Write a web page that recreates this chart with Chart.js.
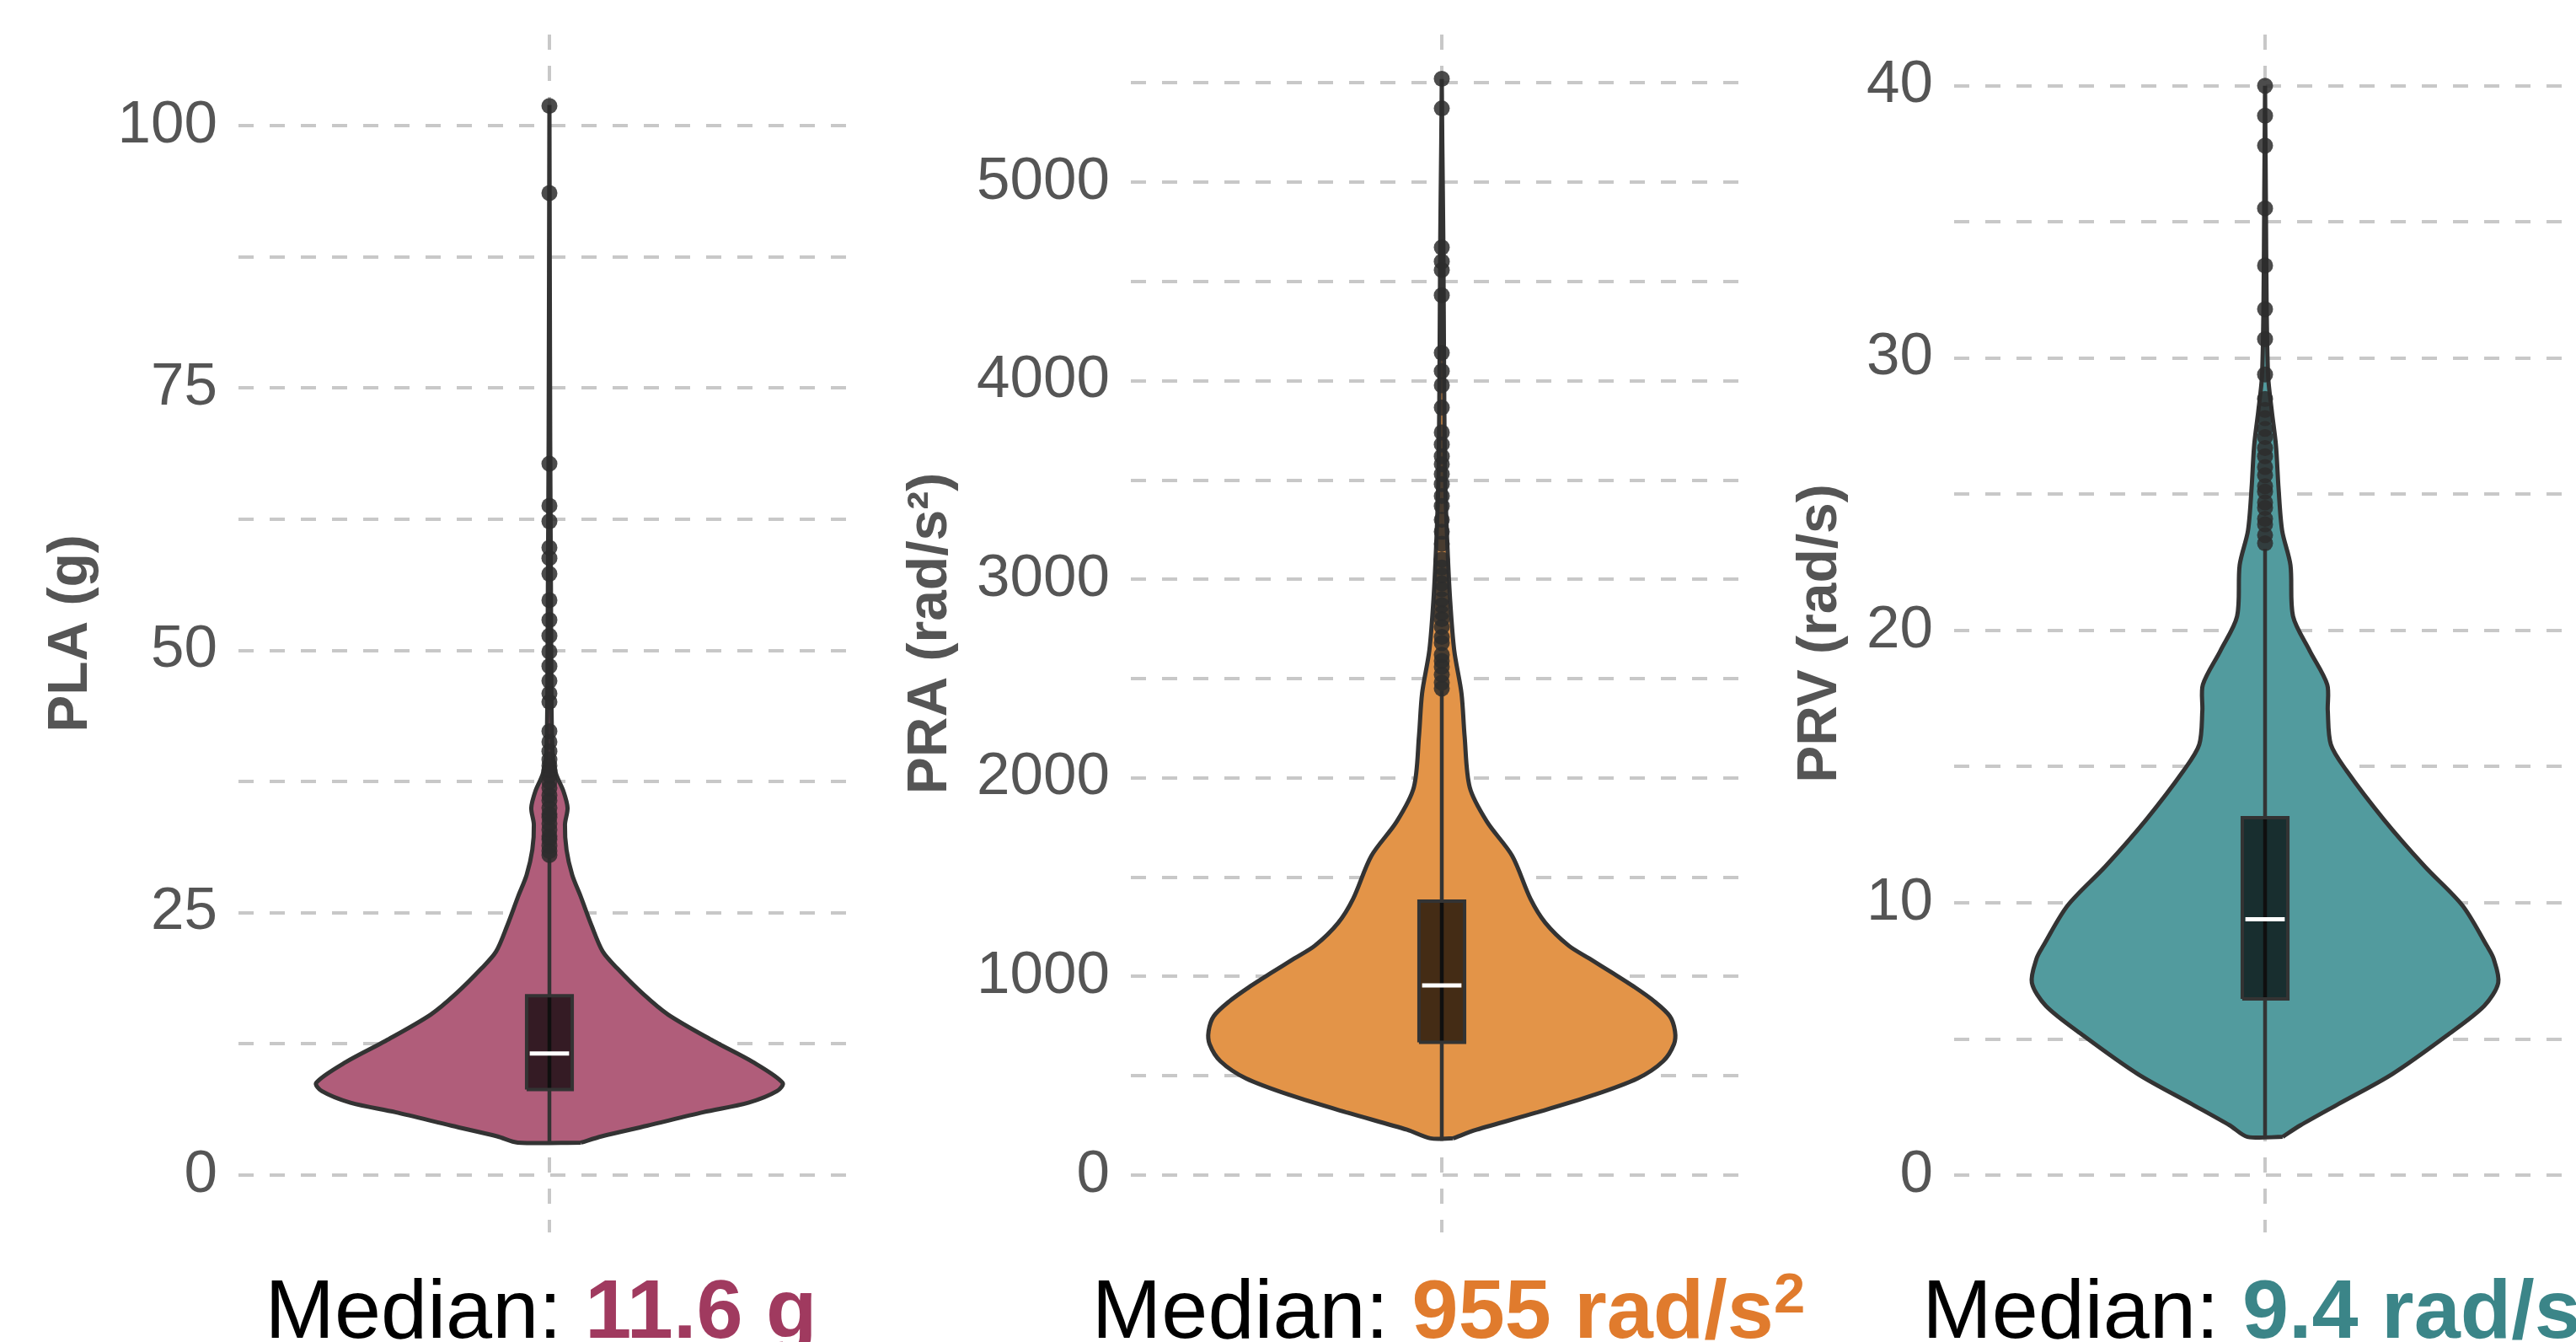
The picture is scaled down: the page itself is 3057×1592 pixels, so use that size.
<!DOCTYPE html>
<html>
<head>
<meta charset="utf-8">
<script src="https://cdn.jsdelivr.net/npm/chart.js@4.4.1/dist/chart.umd.min.js"></script>
<style>
  body { margin: 0; background: #fff; width: 3057px; height: 1592px; overflow: hidden; position: relative;
         font-family: "Liberation Sans", Arial, Helvetica, sans-serif; }
  .panel { position: absolute; top: 0; height: 1462px; }
  .xlab { position: absolute; top: 1503px; font-size: 99px; line-height: 99px; white-space: nowrap;
          transform: translateX(-50%); color: #000; }
  .xlab b { font-weight: bold; }
  .xlab sup { font-size: 67px; vertical-align: 30px; line-height: 0; }
</style>
</head>
<body>
<div class="panel" id="p1"><canvas id="c1"></canvas></div>
<div class="panel" id="p2"><canvas id="c2"></canvas></div>
<div class="panel" id="p3"><canvas id="c3"></canvas></div>
<div class="xlab" style="left:642px">Median: <b style="color:#a03a5f">11.6 g</b></div>
<div class="xlab" style="left:1719px">Median: <b style="color:#e07b2d">955 rad/s<sup>2</sup></b></div>
<div class="xlab" style="left:2672px">Median: <b style="color:#3b8588">9.4 rad/s</b></div>
<script>
// ---- data ----
// PLA (g)
const plaLevels = [3.1, 3.7, 4.7, 6.0, 6.9, 8.0, 8.8, 10.8, 12.8, 15.3, 17.3, 19.7, 21.3, 23.7, 26.6, 28.6, 31.0, 33.4, 35.0, 36.6, 38.2, 39.9, 45, 55, 70, 102];
const plaWidths = [0.061, 0.101, 0.188, 0.297, 0.384, 0.439, 0.45, 0.392, 0.316, 0.229, 0.180, 0.131, 0.103, 0.082, 0.060, 0.044, 0.033, 0.030, 0.035, 0.027, 0.013, 0.0065, 0.004, 0.003, 0.0015, 0];
const plaStats = [3.1, 8.15, 11.6, 17.1, 30.2]; // min, q1, median, q3, upper whisker
const plaOutliers = [30.5, 30.9, 31.4, 32.0, 32.3, 32.9, 33.5, 34.1, 34.4, 35.0, 35.7, 36.2, 36.9, 37.5, 38.1, 38.6,
  39.0, 39.6, 40.4, 41.3, 42.3, 45.1, 45.9, 47.1, 48.5, 49.9, 51.4, 52.9, 54.8, 57.3, 58.8, 59.8, 62.3, 63.8, 67.8, 93.6, 101.9];
const plaGrid = [0, 12.5, 25, 37.5, 50, 62.5, 75, 87.5, 100];
const plaTicks = [0, 25, 50, 75, 100];

// PRA (rad/s^2)
const praLevels = [185, 228, 314, 401, 487, 573, 659, 724, 800, 875, 950, 1017, 1090, 1155, 1270, 1392, 1607, 1780, 1952, 2211, 2426, 2642, 2900, 3160, 3500, 4000, 4700, 5200, 5520];
const praWidths = [0.022, 0.067, 0.182, 0.291, 0.378, 0.427, 0.448, 0.45, 0.44, 0.41, 0.37, 0.33, 0.285, 0.245, 0.20, 0.171, 0.136, 0.087, 0.054, 0.044, 0.038, 0.024, 0.016, 0.011, 0.0065, 0.0045, 0.003, 0.001, 0];
const praStats = [185, 668, 955, 1379, 2440];
const praOutliers = [2450, 2480, 2520, 2560, 2590, 2620, 2680, 2710, 2760, 2800, 2830, 2870, 2900, 2950, 2980, 3020,
  3060, 3100, 3180, 3240, 3300, 3370, 3420, 3480, 3530, 3580, 3620, 3680, 3740, 3865, 3978, 4049, 4141, 4431, 4558, 4601, 4672, 5372, 5521];
const praGrid = [0, 500, 1000, 1500, 2000, 2500, 3000, 3500, 4000, 4500, 5000, 5500];
const praTicks = [0, 1000, 2000, 3000, 4000, 5000];

// PRV (rad/s)
const prvLevels = [1.41, 1.83, 2.61, 3.71, 5.12, 6.22, 7.07, 7.95, 8.42, 9.90, 11.34, 13.04, 14.86, 15.81, 17.06, 18.01, 19.26, 20.52, 22.40, 23.66, 25.23, 26.80, 28.06, 29.32, 32, 36, 40];
const prvWidths = [0.034, 0.068, 0.141, 0.245, 0.350, 0.423, 0.45, 0.441, 0.428, 0.381, 0.308, 0.230, 0.157, 0.127, 0.121, 0.120, 0.086, 0.054, 0.049, 0.033, 0.026, 0.021, 0.013, 0.006, 0.003, 0.0015, 0];
const prvStats = [1.41, 6.47, 9.4, 13.13, 23.0];
const prvOutliers = [23.2, 23.5, 23.9, 24.1, 24.5, 24.7, 25.1, 25.3, 25.7, 26.0, 26.4, 26.7, 27.1, 27.4, 27.8, 28.1, 28.5,
  29.4, 30.7, 31.8, 33.4, 35.5, 37.8, 38.9, 40.0];
const prvGrid = [0, 5, 10, 15, 20, 25, 30, 35, 40];
const prvTicks = [0, 10, 20, 30, 40];

// ---- styling / layout ----
Chart.defaults.font.family = '"Liberation Sans", Arial, Helvetica, sans-serif';
const GRID = '#c8c8c8';
const DARK = '#333333';
const BOX_HALF = 0.044;

function violinPoints(levels, widths) {
  const right = levels.map((y, i) => ({ x: widths[i], y: y }));
  const left = levels.map((y, i) => ({ x: -widths[i], y: y })).reverse();
  return right.concat(left, [right[0]]);
}

function makePanel(canvasId, divId, p) {
  const div = document.getElementById(divId);
  div.style.left = p.left + 'px';
  div.style.width = p.width + 'px';
  const [mn, q1, med, q3, wTop] = p.stats;

  return new Chart(document.getElementById(canvasId), {
    type: 'line',
    data: {
      datasets: [
        { // outliers
          data: p.outliers.map(v => ({ x: 0, y: v })),
          showLine: false, pointRadius: 9.5, pointBorderWidth: 0,
          pointBackgroundColor: 'rgba(45,45,45,0.85)', order: 1
        },
        { // median
          data: [{ x: -BOX_HALF + 0.006, y: med }, { x: BOX_HALF - 0.006, y: med }],
          borderColor: '#ffffff', borderWidth: 5, pointRadius: 0, order: 2
        },
        { // box
          data: [{ x: -BOX_HALF, y: q1 }, { x: BOX_HALF, y: q1 }, { x: BOX_HALF, y: q3 }, { x: -BOX_HALF, y: q3 }, { x: -BOX_HALF, y: q1 }],
          borderColor: DARK, borderWidth: 4, backgroundColor: 'rgba(0,0,0,0.7)', fill: 'shape',
          pointRadius: 0, tension: 0, order: 3
        },
        { // whisker
          data: [{ x: 0, y: mn }, { x: 0, y: wTop }],
          borderColor: DARK, borderWidth: 4.5, pointRadius: 0, order: 4
        },
        { // violin
          data: violinPoints(p.levels, p.widths),
          borderColor: DARK, borderWidth: 5, backgroundColor: p.fill, fill: 'shape',
          pointRadius: 0, tension: 0.3, order: 5
        }
      ]
    },
    options: {
      responsive: true, maintainAspectRatio: false, animation: false, events: [],
      layout: { autoPadding: false, padding: { top: 41, left: 0, right: 0, bottom: 0 } },
      plugins: { legend: { display: false }, tooltip: { enabled: false } },
      scales: {
        x: {
          type: 'linear', min: -0.6, max: 0.6,
          afterBuildTicks: s => { s.ticks = [{ value: 0 }]; },
          ticks: { display: false },
          grid: { color: GRID, lineWidth: 4, drawTicks: false },
          border: { display: false, dash: [18, 19] }
        },
        y: {
          type: 'linear', min: p.yMin, max: p.yMax,
          afterBuildTicks: s => { s.ticks = p.grid.map(v => ({ value: v })); },
          afterFit: s => { s.width = p.axisWidth; s.paddingTop = 0; s.paddingBottom = 0; },
          ticks: {
            autoSkip: false, padding: 25, color: '#555555', font: { size: 71 },
            callback: v => (p.ticks.includes(v) ? String(v) : '')
          },
          grid: { color: GRID, lineWidth: 4, drawTicks: false },
          border: { display: false, dash: [18, 19] },
          title: {
            display: true, text: p.title, color: '#555555',
            font: { size: 66, weight: 'bold', lineHeight: 1 }, padding: { top: 0, bottom: 0 }
          }
        }
      }
    }
  });
}

makePanel('c1', 'p1', {
  left: 52, width: 969, axisWidth: 231, yMin: -5.46, yMax: 108.7, title: 'PLA (g)',
  levels: plaLevels, widths: plaWidths, stats: plaStats, outliers: plaOutliers,
  grid: plaGrid, ticks: plaTicks, fill: '#b05d7a'
});
makePanel('c2', 'p2', {
  left: 1072, width: 1008, axisWidth: 270, yMin: -289, yMax: 5744, title: 'PRA (rad/s²)',
  levels: praLevels, widths: praWidths, stats: praStats, outliers: praOutliers,
  grid: praGrid, ticks: praTicks, fill: '#e39448'
});
makePanel('c3', 'p3', {
  left: 2128, width: 929, axisWidth: 191, yMin: -2.1, yMax: 41.88, title: 'PRV (rad/s)',
  levels: prvLevels, widths: prvWidths, stats: prvStats, outliers: prvOutliers,
  grid: prvGrid, ticks: prvTicks, fill: '#529b9e'
});
</script>
</body>
</html>
